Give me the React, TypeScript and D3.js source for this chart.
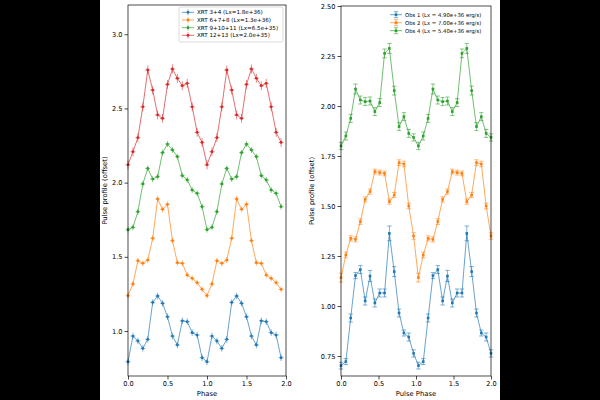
import { useEffect, useRef } from "react";
import * as d3 from "d3";

const W = 600;
const H = 400;

// XRT folded profiles, one rotation (16 bins); plotted over two cycles
const xrt34 = [0.793, 0.966, 0.933, 0.883, 0.944, 1.193, 1.236, 1.187, 1.096, 0.966, 0.906, 1.069, 1.063, 0.989, 0.973, 0.82];
const xrt678 = [1.238, 1.317, 1.474, 1.456, 1.478, 1.625, 1.89, 1.82, 1.854, 1.609, 1.46, 1.456, 1.377, 1.355, 1.326, 1.281];
const xrt91011 = [1.683, 1.699, 1.804, 1.991, 2.096, 2.024, 2.04, 2.202, 2.26, 2.22, 2.175, 2.047, 2.018, 1.95, 1.928, 1.838];
const xrt1213 = [2.12, 2.208, 2.303, 2.511, 2.759, 2.624, 2.456, 2.433, 2.662, 2.766, 2.703, 2.653, 2.669, 2.511, 2.339, 2.271];
const xrtErr = [0.022, 0.02, 0.02, 0.03];
const xrtLabels = [
  "XRT 3+4 (Lx=1.8e+36)",
  "XRT 6+7+8 (Lx=1.3e+36)",
  "XRT 9+10+11 (Lx=6.5e+35)",
  "XRT 12+13 (Lx=2.0e+35)",
];

// observation profiles with their 1-sigma errors
const obs1 = [0.702, 0.722, 0.94, 1.152, 1.182, 1.025, 1.15, 1.015, 1.065, 1.065, 1.363, 1.172, 0.965, 0.865, 0.845, 0.763];
const obs1Err = [0.017, 0.015, 0.02, 0.015, 0.02, 0.02, 0.028, 0.02, 0.02, 0.02, 0.037, 0.025, 0.02, 0.015, 0.02, 0.018];
const obs2 = [1.142, 1.255, 1.338, 1.333, 1.422, 1.533, 1.572, 1.672, 1.667, 1.663, 1.522, 1.555, 1.717, 1.71, 1.5, 1.35];
const obs2Err = [0.022, 0.014, 0.013, 0.013, 0.014, 0.013, 0.013, 0.012, 0.012, 0.012, 0.013, 0.013, 0.014, 0.014, 0.014, 0.016];
const obs4 = [1.8, 1.85, 1.938, 2.085, 2.03, 2.022, 2.025, 1.972, 2.017, 2.263, 2.288, 2.077, 1.897, 1.947, 1.863, 1.843];
const obs4Err = [0.018, 0.02, 0.02, 0.025, 0.02, 0.02, 0.02, 0.02, 0.02, 0.022, 0.025, 0.022, 0.02, 0.02, 0.02, 0.018];
const obsLabels = [
  "Obs 1 (Lx = 4.90e+36 erg/s)",
  "Obs 2 (Lx = 7.00e+36 erg/s)",
  "Obs 4 (Lx = 5.40e+36 erg/s)",
];

const leftTicksY = [1.0, 1.5, 2.0, 2.5, 3.0];
const rightTicksY = [0.75, 1.0, 1.25, 1.5, 1.75, 2.0, 2.25, 2.5];
const ticksX = [0, 0.5, 1, 1.5, 2];

const COLORS = ["#1f77b4", "#ff7f0e", "#2ca02c", "#d62728"];
const FONT = "DejaVu Sans, sans-serif";

const twice = (a: number[]) => a.concat(a);

type Series = { label: string; color: string; y: number[]; err: number[] };

type Panel = {
  left: number;
  right: number;
  top: number;
  bottom: number;
  yDomain: [number, number];
  yTicks: number[];
  yFormat: (v: number) => string;
  phases: number[];
  series: Series[];
  xerr: number;
  caps: boolean;
  square: boolean;
  xLabel: string;
  yLabel: string;
  yLabelX: number;
  legend: { x: number; y: number; w: number; h: number; frame: boolean; rowY: number[]; fontSize: number };
};

function drawPanel(svg: d3.Selection<SVGSVGElement, unknown, null, undefined>, p: Panel) {
  const x = d3.scaleLinear().domain([0, 2]).range([p.left, p.right]);
  const y = d3.scaleLinear().domain(p.yDomain).range([p.bottom, p.top]);
  const g = svg.append("g");

  const line = d3
    .line<number>()
    .x((_, i) => x(p.phases[i]))
    .y((d) => y(d));

  p.series.forEach((s) => {
    const sg = g.append("g");
    sg.append("path")
      .attr("d", line(s.y) ?? "")
      .attr("fill", "none")
      .attr("stroke", s.color)
      .attr("stroke-opacity", 0.75)
      .attr("stroke-width", 0.9);

    s.y.forEach((v, i) => {
      const cx = x(p.phases[i]);
      const e = s.err[i % s.err.length];
      const yt = y(v + e);
      const yb = y(v - e);
      sg.append("line")
        .attr("x1", cx).attr("x2", cx).attr("y1", yt).attr("y2", yb)
        .attr("stroke", s.color).attr("stroke-opacity", 0.7).attr("stroke-width", 0.8);
      if (p.caps) {
        [yt, yb].forEach((yy) =>
          sg.append("line")
            .attr("x1", cx - 2.2).attr("x2", cx + 2.2).attr("y1", yy).attr("y2", yy)
            .attr("stroke", s.color).attr("stroke-opacity", 0.7).attr("stroke-width", 0.8)
        );
      }
      if (p.xerr > 0) {
        sg.append("line")
          .attr("x1", x(p.phases[i] - p.xerr)).attr("x2", x(p.phases[i] + p.xerr))
          .attr("y1", y(v)).attr("y2", y(v))
          .attr("stroke", s.color).attr("stroke-opacity", 0.7).attr("stroke-width", 0.8);
      }
      if (p.square) {
        sg.append("rect")
          .attr("x", cx - 1.3).attr("y", y(v) - 1.3).attr("width", 2.6).attr("height", 2.6)
          .attr("fill", s.color);
      } else {
        sg.append("circle").attr("cx", cx).attr("cy", y(v)).attr("r", 1.4).attr("fill", s.color);
      }
    });
  });

  // axes
  const xAxis = d3.axisBottom(x).tickValues(ticksX).tickSize(3.5).tickPadding(2).tickFormat((d) => d3.format(".1f")(d as number));
  const yAxis = d3.axisLeft(y).tickValues(p.yTicks).tickSize(3.5).tickPadding(2).tickFormat((d) => p.yFormat(d as number));

  const ax = g.append("g").attr("transform", `translate(0,${p.bottom})`).call(xAxis);
  const ay = g.append("g").attr("transform", `translate(${p.left},0)`).call(yAxis);
  [ax, ay].forEach((a) => {
    a.select(".domain").remove();
    a.selectAll("line").attr("stroke", "#000").attr("stroke-width", 0.7);
    a.selectAll("text").attr("font-family", FONT).attr("font-size", 6.6).attr("fill", "#000");
  });

  g.append("rect")
    .attr("x", p.left).attr("y", p.top)
    .attr("width", p.right - p.left).attr("height", p.bottom - p.top)
    .attr("fill", "none").attr("stroke", "#000").attr("stroke-width", 0.7);

  g.append("text")
    .attr("x", (p.left + p.right) / 2).attr("y", 396)
    .attr("text-anchor", "middle")
    .attr("font-family", FONT).attr("font-size", 6.8)
    .text(p.xLabel);

  g.append("text")
    .attr("transform", `translate(${p.yLabelX},${(p.top + p.bottom) / 2}) rotate(-90)`)
    .attr("text-anchor", "middle")
    .attr("font-family", FONT).attr("font-size", 6.8)
    .text(p.yLabel);

  // legend
  const L = p.legend;
  const lg = g.append("g");
  if (L.frame) {
    lg.append("rect")
      .attr("x", L.x).attr("y", L.y).attr("width", L.w).attr("height", L.h).attr("rx", 1.5)
      .attr("fill", "#fff").attr("fill-opacity", 0.8)
      .attr("stroke", "#ccc").attr("stroke-width", 0.7);
  }
  p.series.forEach((s, i) => {
    const ry = L.rowY[i];
    const hx0 = L.x + 3;
    const hx1 = L.x + 15;
    const hm = (hx0 + hx1) / 2;
    lg.append("line").attr("x1", hx0).attr("x2", hx1).attr("y1", ry).attr("y2", ry)
      .attr("stroke", s.color).attr("stroke-opacity", 0.75).attr("stroke-width", 0.9);
    lg.append("line").attr("x1", hm).attr("x2", hm).attr("y1", ry - 3).attr("y2", ry + 3)
      .attr("stroke", s.color).attr("stroke-opacity", 0.7).attr("stroke-width", 0.8);
    if (p.caps) {
      [ry - 3, ry + 3].forEach((yy) =>
        lg.append("line").attr("x1", hm - 2.2).attr("x2", hm + 2.2).attr("y1", yy).attr("y2", yy)
          .attr("stroke", s.color).attr("stroke-opacity", 0.7).attr("stroke-width", 0.8)
      );
    }
    if (p.square) {
      lg.append("rect").attr("x", hm - 1.3).attr("y", ry - 1.3).attr("width", 2.6).attr("height", 2.6).attr("fill", s.color);
    } else {
      lg.append("circle").attr("cx", hm).attr("cy", ry).attr("r", 1.4).attr("fill", s.color);
    }
    lg.append("text")
      .attr("x", L.x + 18).attr("y", ry)
      .attr("dy", "0.35em")
      .attr("font-family", FONT).attr("font-size", L.fontSize)
      .text(s.label);
  });
}

export default function App() {
  const svgRef = useRef<SVGSVGElement>(null);

  useEffect(() => {
    const el = svgRef.current;
    if (!el) return;
    const svg = d3.select(el);
    svg.selectAll("*").remove();

    svg.append("rect").attr("width", W).attr("height", H).attr("fill", "#000");
    svg.append("rect").attr("x", 100).attr("width", 400).attr("height", H).attr("fill", "#fff");

    const leftPhases = d3.range(32).map((i) => i / 16);
    const rightPhases = d3.range(32).map((i) => (i * 2) / 31);

    drawPanel(svg, {
      left: 128,
      right: 286,
      top: 5,
      bottom: 376,
      yDomain: [0.697, 3.197],
      yTicks: leftTicksY,
      yFormat: d3.format(".1f"),
      phases: leftPhases,
      series: [xrt34, xrt678, xrt91011, xrt1213].map((v, i) => ({
        label: xrtLabels[i],
        color: COLORS[i],
        y: twice(v),
        err: [xrtErr[i]],
      })),
      xerr: 1 / 32,
      caps: false,
      square: false,
      xLabel: "Phase",
      yLabel: "Pulse profile (offset)",
      yLabelX: 107,
      legend: { x: 179, y: 7, w: 104, h: 35, frame: true, rowY: [12.3, 20, 27.7, 35.3], fontSize: 5.6 },
    });

    drawPanel(svg, {
      left: 341,
      right: 491,
      top: 6,
      bottom: 376,
      yDomain: [0.65, 2.5],
      yTicks: rightTicksY,
      yFormat: d3.format(".2f"),
      phases: rightPhases,
      series: [
        { label: obsLabels[0], color: COLORS[0], y: twice(obs1), err: obs1Err },
        { label: obsLabels[1], color: COLORS[1], y: twice(obs2), err: obs2Err },
        { label: obsLabels[2], color: COLORS[2], y: twice(obs4), err: obs4Err },
      ],
      xerr: 0,
      caps: true,
      square: true,
      xLabel: "Pulse Phase",
      yLabel: "Pulse profile (offset)",
      yLabelX: 314,
      legend: { x: 387, y: 9, w: 104, h: 26, frame: false, rowY: [14.7, 22.7, 30.7], fontSize: 5.3 },
    });
  }, []);

  return (
    <svg
      ref={svgRef}
      width={W}
      height={H}
      style={{ position: "fixed", left: 0, top: 0, display: "block" }}
    />
  );
}
